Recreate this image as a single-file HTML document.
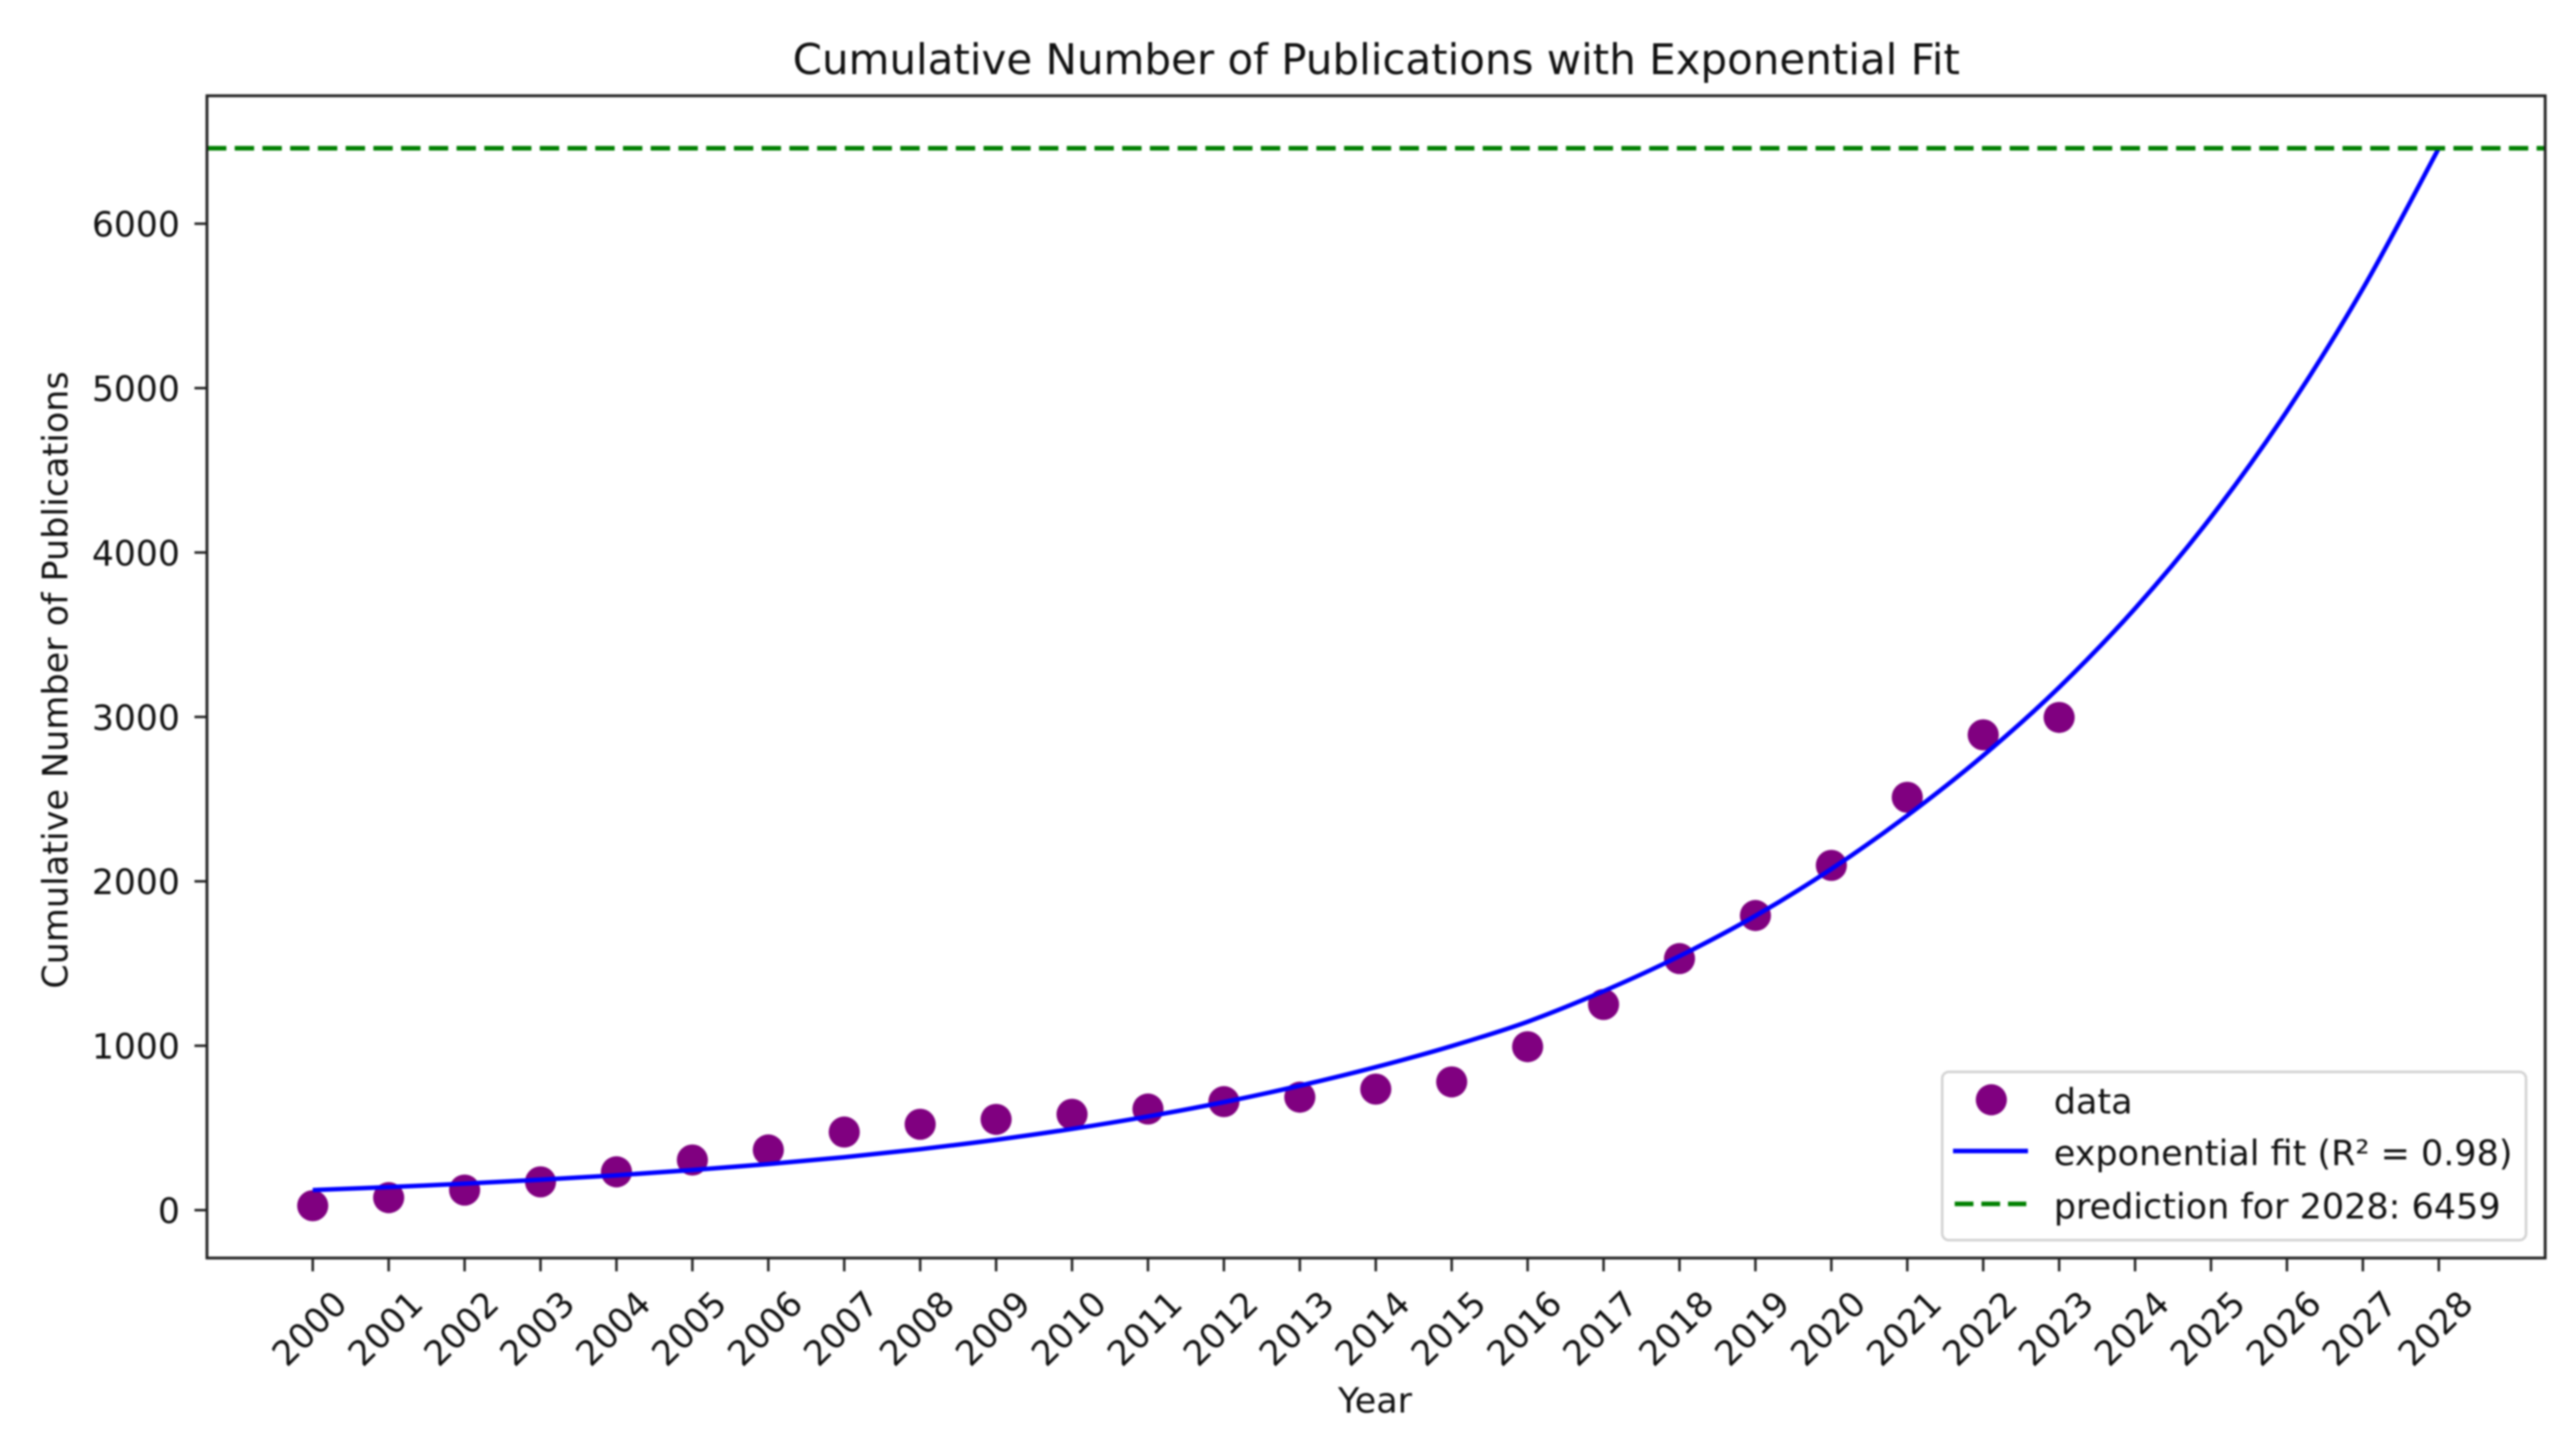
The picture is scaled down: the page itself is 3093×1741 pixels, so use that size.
<!DOCTYPE html>
<html lang="en">
<head>
<meta charset="utf-8">
<title>Cumulative Number of Publications with Exponential Fit</title>
<style>
html,body{margin:0;padding:0;background:#fff;width:3093px;height:1741px;overflow:hidden}
svg{display:block;filter:blur(1.1px)}
text{font-family:"DejaVu Sans","Liberation Sans",sans-serif;fill:#111}
</style>
</head>
<body>
<svg id="chart" xmlns="http://www.w3.org/2000/svg" width="3093" height="1741" viewBox="0 0 3093 1741">
  <rect x="0" y="0" width="3093" height="1741" fill="#ffffff"/>
  <text x="1652.5" y="89" font-size="50.4" text-anchor="middle">Cumulative Number of Publications with Exponential Fit</text>
  <text x="1651" y="1696" font-size="42" text-anchor="middle">Year</text>
  <text transform="translate(81,816.5) rotate(-90)" font-size="42" text-anchor="middle">Cumulative Number of Publications</text>
  <g id="ticks"></g>
  <g id="marks"></g>
  <rect x="248.5" y="115" width="2807.5" height="1395.5" fill="none" stroke="#222" stroke-width="3.4"/>
  <g>
    <rect x="2332" y="1287" width="701" height="202" rx="8" ry="8" fill="#ffffff" fill-opacity="0.9" stroke="#d2d2d2" stroke-width="3"/>
    <circle cx="2391" cy="1320.5" r="18.7" fill="#800080"/>
    <text x="2466" y="1337" font-size="42">data</text>
    <line x1="2345" y1="1382" x2="2435" y2="1382" stroke="#0000ff" stroke-width="5.4"/>
    <text x="2466" y="1399" font-size="42">exponential fit (R² = 0.98)</text>
    <line x1="2347" y1="1445.5" x2="2433" y2="1445.5" stroke="#008000" stroke-width="5.4" stroke-dasharray="22.5 9.5"/>
    <text x="2466" y="1463" font-size="42">prediction for 2028: 6459</text>
  </g>
</svg>
<script>
const dataYears = [2000,2001,2002,2003,2004,2005,2006,2007,2008,2009,2010,2011,2012,2013,2014,2015,2016,2017,2018,2019,2020,2021,2022,2023];
const dataValues = [27,76,122,172,233,305,366,475,522,552,583,615,660,687,736,780,994,1251,1530,1792,2097,2511,2891,2997];
const fitYears = [2000,2001,2002,2003,2004,2005,2006,2007,2008,2009,2010,2011,2012,2013,2014,2015,2016,2017,2018,2019,2020,2021,2022,2023,2024,2025,2026,2027,2028];
const fitValues = [122,140,161,185,212,244,280,322,371,428,494,570,657,757,870,998,1146,1332,1545,1790,2075,2400,2765,3180,3660,4215,4860,5605,6459];
const predictionValues = [6459];
const xTickLabels = [2000,2001,2002,2003,2004,2005,2006,2007,2008,2009,2010,2011,2012,2013,2014,2015,2016,2017,2018,2019,2020,2021,2022,2023,2024,2025,2026,2027,2028];
const yTickLabels = [0,1000,2000,3000,4000,5000,6000];

const SVG_NS = 'http://www.w3.org/2000/svg';
const plotLeft = 248.5, plotRight = 3056, plotBottom = 1510.5;
function xScale(year){ return 375.5 + (year - 2000) * 91.17; }
function yScale(value){ return 1453 - value * 0.1974; }

const tickGroup = document.getElementById('ticks');
const markGroup = document.getElementById('marks');

xTickLabels.forEach(function(year){
  const px = xScale(year);
  const tick = document.createElementNS(SVG_NS, 'line');
  
  
  tick.setAttribute('x1', px);
  tick.setAttribute('x2', px);
  tick.setAttribute('y1', plotBottom);
  tick.setAttribute('y2', plotBottom + 16);
  tick.setAttribute('stroke', '#222');
  tick.setAttribute('stroke-width', 3);
  tickGroup.appendChild(tick);
  const label = document.createElementNS(SVG_NS, 'text');
  
  
  label.setAttribute('transform', 'translate(' + (px - 4) + ',1595) rotate(-45)');
  label.setAttribute('y', 14.5);
  label.setAttribute('font-size', 41.5);
  label.setAttribute('text-anchor', 'middle');
  label.textContent = year;
  tickGroup.appendChild(label);
});

yTickLabels.forEach(function(value){
  const py = yScale(value);
  const tick = document.createElementNS(SVG_NS, 'line');
  
  
  tick.setAttribute('x1', plotLeft - 15);
  tick.setAttribute('x2', plotLeft);
  tick.setAttribute('y1', py);
  tick.setAttribute('y2', py);
  tick.setAttribute('stroke', '#222');
  tick.setAttribute('stroke-width', 3);
  tickGroup.appendChild(tick);
  const label = document.createElementNS(SVG_NS, 'text');
  
  
  label.setAttribute('x', 216);
  label.setAttribute('y', py + 15.5);
  label.setAttribute('font-size', 41.5);
  label.setAttribute('text-anchor', 'end');
  label.textContent = value;
  tickGroup.appendChild(label);
});

dataYears.forEach(function(year, i){
  const point = document.createElementNS(SVG_NS, 'circle');
  
  
  point.setAttribute('cx', xScale(year));
  point.setAttribute('cy', yScale(dataValues[i]));
  point.setAttribute('r', 18.7);
  point.setAttribute('fill', '#800080');
  markGroup.appendChild(point);
});

function smoothPath(pts){
  let d = 'M' + pts[0][0] + ' ' + pts[0][1];
  for (let i = 0; i < pts.length - 1; i++) {
    const p0 = pts[Math.max(i - 1, 0)], p1 = pts[i], p2 = pts[i + 1], p3 = pts[Math.min(i + 2, pts.length - 1)];
    d += ' C' + (p1[0] + (p2[0] - p0[0]) / 6) + ' ' + (p1[1] + (p2[1] - p0[1]) / 6) + ' ' +
         (p2[0] - (p3[0] - p1[0]) / 6) + ' ' + (p2[1] - (p3[1] - p1[1]) / 6) + ' ' + p2[0] + ' ' + p2[1];
  }
  return d;
}
const fitPoints = fitYears.map(function(year, i){ return [xScale(year), yScale(fitValues[i])]; });
const fitLine = document.createElementNS(SVG_NS, 'path');


fitLine.setAttribute('d', smoothPath(fitPoints));
fitLine.setAttribute('fill', 'none');
fitLine.setAttribute('stroke', '#0000ff');
fitLine.setAttribute('stroke-width', 5.4);
markGroup.appendChild(fitLine);

const predictionLine = document.createElementNS(SVG_NS, 'line');


predictionLine.setAttribute('x1', plotLeft);
predictionLine.setAttribute('x2', plotRight);
predictionLine.setAttribute('y1', yScale(predictionValues[0]));
predictionLine.setAttribute('y2', yScale(predictionValues[0]));
predictionLine.setAttribute('stroke', '#008000');
predictionLine.setAttribute('stroke-width', 5.4);
predictionLine.setAttribute('stroke-dasharray', '23.3 10');
markGroup.appendChild(predictionLine);
</script>
</body>
</html>
